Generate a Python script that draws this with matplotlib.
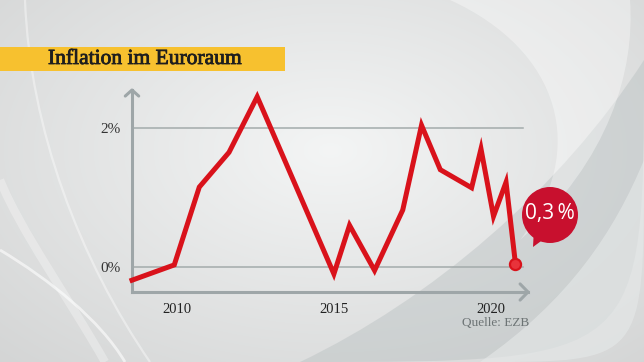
import numpy as np
import matplotlib
matplotlib.use("Agg")
import matplotlib.pyplot as plt
import matplotlib.patheffects as pe
from matplotlib.path import Path
from matplotlib.patches import PathPatch, Circle, Polygon, Rectangle

# Inflation im Euroraum
years = [2008.55, 2009.9, 2010.7, 2011.65, 2012.55, 2015.0, 2015.5,
         2016.3, 2017.2, 2017.8, 2018.4, 2019.4, 2019.7, 2020.1,
         2020.5, 2020.8]
inflation = [-0.19, 0.03, 1.15, 1.65, 2.45, -0.1, 0.6,
             -0.05, 0.82, 2.04, 1.4, 1.14, 1.7, 0.73,
             1.22, 0.05]
ytick_vals = [0, 2]
ytick_labels = ["0%", "2%"]
xtick_vals = [2010, 2015, 2020]
xtick_labels = ["2010", "2015", "2020"]
title = "Inflation im Euroraum"
badge = "0,3\u2009%"
source = "Quelle: EZB"

RED = "#d9121b"
AXIS = "#9ea6a8"
GRID = "#a3abab"
SERIF = "Liberation Serif"

W, H = 644, 362
fig = plt.figure(figsize=(W / 100, H / 100), dpi=100)

# background (pixel coords)
bg = fig.add_axes([0, 0, 1, 1], zorder=0)
bg.set_xlim(0, W)
bg.set_ylim(H, 0)
bg.axis("off")
yy, xx = np.mgrid[0:H, 0:W]
d = np.sqrt(((xx - 330) / 420.0) ** 2 + ((yy - 150) / 260.0) ** 2)
shade = np.clip(0.955 - 0.11 * d, 0.8, 0.96)
bg.imshow(np.dstack([shade, shade + 0.005, shade + 0.005]).clip(0, 1),
          extent=[0, W, H, 0], aspect="auto", zorder=0)


def swoosh(verts, color, alpha, z=1):
    codes = [Path.MOVETO] + [Path.CURVE4] * (len(verts) - 2) + [Path.CLOSEPOLY]
    bg.add_patch(PathPatch(Path(verts, codes), fc=color, ec="none", alpha=alpha, zorder=z))


def arc(verts, color, alpha, lw):
    codes = [Path.MOVETO] + [Path.CURVE4] * (len(verts) - 1)
    bg.add_patch(PathPatch(Path(verts, codes), fc="none", ec=color, alpha=alpha, lw=lw, zorder=1))


# darker band lower right
swoosh([(300, 362), (430, 300), (560, 190), (644, 60), (644, 362), (644, 362), (300, 362), (300, 362)],
       "#b9c0c1", 0.45)
swoosh([(480, 362), (570, 300), (615, 230), (644, 160), (644, 362), (644, 362), (480, 362), (480, 362)],
       "#e6e9e9", 0.6)
# white highlight top right
swoosh([(450, 0), (560, 50), (590, 150), (520, 240), (610, 160), (635, 70), (630, 0), (630, 0), (450, 0), (450, 0)],
       "white", 0.35)
# white arcs on the left
arc([(0, 250), (50, 280), (100, 320), (125, 362)], "white", 0.6, 2.0)
arc([(25, 0), (30, 130), (80, 260), (150, 362)], "white", 0.4, 1.6)
arc([(0, 180), (20, 230), (70, 300), (105, 362)], "white", 0.3, 6)

# main chart
x0, x1 = 132, 528
yb, yt = 292, 90
ax = fig.add_axes([x0 / W, 1 - yb / H, (x1 - x0) / W, (yb - yt) / H], zorder=2)
ax.patch.set_alpha(0)
ax.set_xlim(2008.55, 2008.55 + (x1 - x0) / 31.3)
ax.set_ylim((267 - yb) / 69.5, (267 - yt) / 69.5)

for s in ["top", "right"]:
    ax.spines[s].set_visible(False)
for s in ["left", "bottom"]:
    ax.spines[s].set_color(AXIS)
    ax.spines[s].set_linewidth(2.2)

for v in ytick_vals:
    ax.plot([2008.55, 2008.55 + (523 - x0) / 31.3], [v, v], color=GRID, lw=1.1, zorder=1)

ax.set_yticks(ytick_vals)
ax.set_yticklabels(ytick_labels, family=SERIF, fontsize=11, color="#333333")
ax.set_xticks(xtick_vals)
ax.set_xticklabels(xtick_labels, family=SERIF, fontsize=10.5, color="#222222")
ax.tick_params(length=0, pad=8)
ax.tick_params(axis="y", pad=8)

# axis arrow heads
ax.plot([-0.017, 0, 0.017], [1.0 - 0.03, 1.0, 1.0 - 0.03], color=AXIS, lw=2.2,
        transform=ax.transAxes, clip_on=False, solid_capstyle="round")
ax.plot([1.0 - 0.02, 1.0, 1.0 - 0.02], [0.04, 0, -0.04], color=AXIS, lw=2.2,
        transform=ax.transAxes, clip_on=False, solid_capstyle="round")

ax.plot(years, inflation, color=RED, lw=3.6, solid_joinstyle="miter", zorder=3, clip_on=False)
ax.plot(years[-1], inflation[-1], "o", ms=8, mfc="#e8333b", mec=RED, mew=1.6, zorder=4, clip_on=False)

# overlay: title bar, badge, source
top = fig.add_axes([0, 0, 1, 1], zorder=5)
top.set_xlim(0, W)
top.set_ylim(H, 0)
top.axis("off")
top.patch.set_alpha(0)
top.add_patch(Rectangle((0, 47), 285, 24, fc="#f7c12f", ec="none"))
top.text(48, 59.5, title, family=SERIF, fontsize=15.5, color="#1e1e1e", va="center", ha="left",
         path_effects=[pe.withStroke(linewidth=0.6, foreground="#1e1e1e")])

top.add_patch(Polygon([(534, 228), (548, 236), (533, 247)], closed=True, fc="#c8102e", ec="none"))
top.add_patch(Circle((550, 215), 28, fc="#c8102e", ec="none"))
top.text(550, 214, badge, color="white", fontsize=15, ha="center", va="center",
         family=["Open Sans", "DejaVu Sans"])

top.text(529, 323, source, family=SERIF, fontsize=9.5, color="#6d7475", ha="right", va="center")

fig.savefig("out.png", dpi=100)
